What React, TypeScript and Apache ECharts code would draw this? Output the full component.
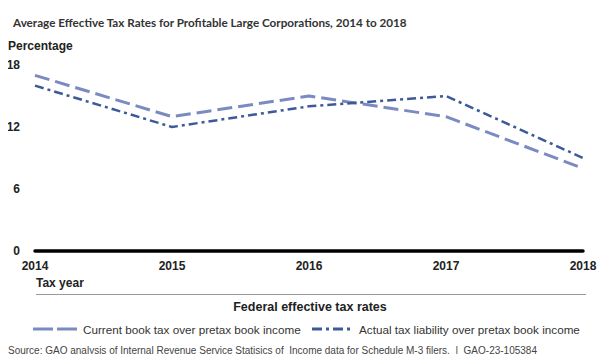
import React, { useEffect, useRef } from "react";
import * as echarts from "echarts";

const years = ["2014", "2015", "2016", "2017", "2018"];
const currentBookTax = [17, 13, 15, 13, 8];
const actualTaxLiability = [16, 12, 14, 15, 9];

const seriesNames = [
  "Current book tax over pretax book income",
  "Actual tax liability over pretax book income",
];
const title = "Average Effective Tax Rates for Profitable Large Corporations, 2014 to 2018";
const source =
  "Source: GAO analysis of Internal Revenue Service Statisics of  Income data for Schedule M-3 filers.  |  GAO-23-105384";

export default function App() {
  const ref = useRef<HTMLDivElement>(null);
  useEffect(() => {
    if (!ref.current) return;
    const chart = echarts.init(ref.current, null, { renderer: "svg" });
    const font = "'Liberation Sans', Arial, sans-serif";
    const c1 = "#7b8bc2";
    const c2 = "#3d5a98";
    chart.setOption({
      animation: false,
      textStyle: { fontFamily: font },
      title: {
        text: title,
        left: 8,
        top: 11,
        textStyle: { fontFamily: "Lato, sans-serif", fontSize: 11.7, fontWeight: "bold", color: "#333" },
      },
      grid: { left: 35, right: 32, top: 65, bottom: 111, containLabel: false },
      xAxis: {
        type: "category",
        data: years,
        boundaryGap: false,
        axisLine: { lineStyle: { color: "#000", width: 3.5 } },
        axisTick: { show: false },
        axisLabel: { color: "#222", fontWeight: "bold", fontSize: 12, margin: 9 },
      },
      yAxis: {
        type: "value",
        min: 0,
        max: 18,
        interval: 6,
        name: "Percentage",
        nameLocation: "end",
        nameGap: 13,
        nameTextStyle: { align: "left", padding: [0, 0, 0, -27], fontWeight: "bold", fontSize: 12, color: "#222" },
        splitLine: { show: false },
        axisLine: { show: false },
        axisTick: { show: false },
        axisLabel: { color: "#222", fontWeight: "bold", fontSize: 12, margin: 15 },
      },
      series: [
        {
          name: seriesNames[0],
          type: "line",
          data: currentBookTax,
          symbol: "none",
          lineStyle: { color: c1, width: 3, type: [15, 6] },
          itemStyle: { color: c1 },
        },
        {
          name: seriesNames[1],
          type: "line",
          data: actualTaxLiability,
          symbol: "none",
          lineStyle: { color: c2, width: 2.5, type: [9, 4, 3, 4] },
          itemStyle: { color: c2 },
        },
      ],
      graphic: [
        {
          type: "text",
          left: 36,
          top: 277,
          style: { text: "Tax year", font: `bold 12px ${font}`, fill: "#222" },
        },
        {
          type: "line",
          shape: { x1: 36, y1: 294.5, x2: 586, y2: 294.5 },
          style: { stroke: "#999", lineWidth: 1 },
        },
        {
          type: "text",
          x: 310,
          y: 307,
          style: {
            text: "Federal effective tax rates",
            font: `bold 12.5px ${font}`,
            fill: "#222",
            align: "center",
            verticalAlign: "middle",
          },
        },
        {
          type: "line",
          shape: { x1: 33, y1: 329, x2: 77, y2: 329 },
          style: { stroke: c1, lineWidth: 3, lineDash: [20, 4] },
        },
        {
          type: "text",
          x: 83,
          y: 329,
          style: { text: seriesNames[0], font: `11.7px ${font}`, fill: "#333", verticalAlign: "middle" },
        },
        {
          type: "line",
          shape: { x1: 312, y1: 329, x2: 352, y2: 329 },
          style: { stroke: c2, lineWidth: 3, lineDash: [10, 4, 3, 4] },
        },
        {
          type: "text",
          x: 359,
          y: 329,
          style: { text: seriesNames[1], font: `11.7px ${font}`, fill: "#333", verticalAlign: "middle" },
        },
        {
          type: "text",
          x: 8,
          y: 350,
          style: { text: source, font: `10px ${font}`, fill: "#444", verticalAlign: "middle" },
        },
      ],
    });
    return () => chart.dispose();
  }, []);
  return <div ref={ref} style={{ width: 615, height: 362, margin: -8 }} />;
}
